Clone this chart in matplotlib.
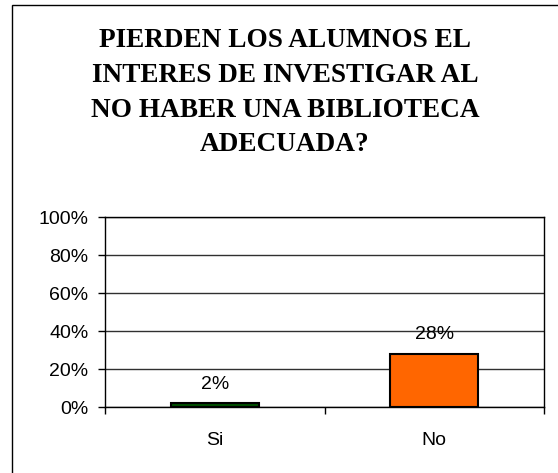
import matplotlib.pyplot as plt
from matplotlib.patches import Rectangle

# data
categories = ["Si", "No"]
values = [2, 28]
colors = ["#005000", "#FF6600"]
title_lines = [
    "PIERDEN LOS ALUMNOS EL",
    "INTERES DE INVESTIGAR AL",
    "NO HABER UNA BIBLIOTECA",
    "ADECUADA?",
]
yticks = [0, 20, 40, 60, 80, 100]

W, H = 558, 473
fig = plt.figure(figsize=(W / 100, H / 100), dpi=100)

# outer chart border
fig.add_artist(Rectangle((12 / W, -0.05), 1.0, (H - 5) / H + 0.05,
                         transform=fig.transFigure, fill=False,
                         edgecolor="black", linewidth=1))

# title, one line at a time
baselines = [47, 82, 117, 151]
for line, yb in zip(title_lines, baselines):
    fig.text(285 / W, 1 - yb / H, line, ha="center", va="baseline",
             fontsize=19.6, fontweight="bold", family="Liberation Serif")

ax = fig.add_axes([105 / W, (H - 407) / H, 439 / W, 190 / H])

x = range(len(categories))
bars = ax.bar(x, values, width=0.4, color=colors, edgecolor="black",
              linewidth=1.5, zorder=3)

for b, v in zip(bars, values):
    ax.annotate(f"{v}%", (b.get_x() + b.get_width() / 2, v),
                xytext=(0, 10.5), textcoords="offset points",
                ha="center", va="baseline", fontsize=14,
                family="Liberation Sans")

ax.set_xlim(-0.5, 1.5)
ax.set_ylim(0, 100)
ax.set_yticks(yticks)
ax.set_yticklabels([f"{t}%" for t in yticks], family="Liberation Sans",
                   fontsize=14)
ax.set_xticks([-0.5, 0.5, 1.5])
ax.set_xticklabels([])
ax.set_xticks([0, 1], minor=True)
ax.set_xticklabels(categories, minor=True, family="Liberation Sans",
                   fontsize=14)
ax.tick_params(axis="x", which="minor", length=0, pad=18)
ax.tick_params(axis="x", which="major", length=5, width=1)
ax.tick_params(axis="y", length=5, width=1, pad=7)

ax.yaxis.grid(True, color="#303030", linewidth=1, zorder=0)
for s in ax.spines.values():
    s.set_color("black")
    s.set_linewidth(1)

fig.savefig("out.png", dpi=100)
